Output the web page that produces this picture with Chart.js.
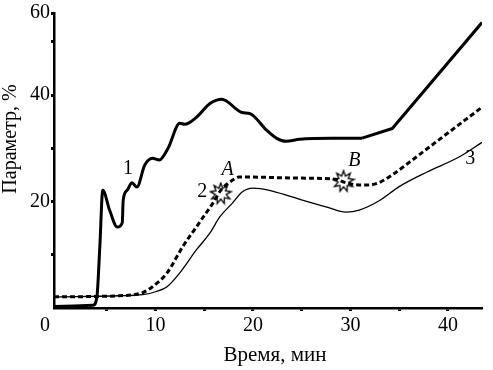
<!DOCTYPE html>
<html>
<head>
<meta charset="utf-8">
<script src="https://cdn.jsdelivr.net/npm/chart.js@4"></script>
<style>
  html, body { margin: 0; padding: 0; background: #fff; }
  #wrap { width: 493px; height: 370px; }
</style>
</head>
<body>
<div id="wrap"><canvas id="chart" width="493" height="370"></canvas></div>
<script>
// Curve 1 (thick solid)
const time1 = [-0.4, 3.6, 4.0, 4.3, 4.6, 5.3, 6.1, 6.6, 6.7, 7.1, 7.6, 8.1, 8.9, 9.7, 10.4, 11.3, 12.5, 13.0, 14.2, 15.6, 16.8, 18.9, 19.7, 21.4, 22.4, 23.4, 24.8, 28.1, 31.2, 34.3, 43.5];
const param1 = [0.3, 0.5, 2.1, 11.5, 22.1, 18.4, 15.2, 16.0, 20.3, 22.1, 23.5, 22.7, 26.8, 28.1, 27.8, 30.0, 34.7, 34.5, 35.8, 38.4, 39.2, 36.7, 36.5, 33.4, 31.9, 31.3, 31.7, 31.9, 31.9, 33.7, 53.6];
// from this time on curve 1 is drawn with straight segments
const straightFrom = 31.2;

// Curve 2 (dashed)
const time2 = [-0.4, 6.3, 8.7, 9.7, 11.2, 12.8, 14.5, 15.9, 16.7, 17.9, 18.6, 24.8, 28.4, 29.4, 30.9, 31.9, 33.0, 34.3, 36.0, 38.8, 43.5];
const param2 = [2.1, 2.3, 2.9, 4.0, 6.6, 11.5, 16.0, 19.7, 22.1, 24.0, 24.6, 24.4, 24.2, 23.6, 23.1, 23.1, 23.6, 25.0, 27.3, 31.2, 37.7];

// Curve 3 (thin solid)
const time3 = [-0.4, 6.3, 8.7, 10.1, 11.2, 12.5, 14.2, 15.6, 16.6, 17.9, 18.9, 20.0, 21.7, 24.1, 27.5, 29.6, 30.9, 33.0, 35.0, 37.8, 41.1, 43.5];
const param3 = [2.1, 2.3, 2.5, 3.1, 4.0, 6.6, 10.9, 14.1, 17.1, 19.7, 21.8, 22.5, 22.1, 20.8, 19.0, 18.0, 18.4, 20.2, 22.8, 25.5, 28.3, 31.1];

// Points A and B
const markTime = [16.7, 29.3];
const markParam = [21.5, 23.8];

// Curve numbers and point letters
const noteText = ['1', '2', 'A', 'B', '3'];
const noteTime = [7.2, 14.8, 17.4, 30.4, 42.3];
const noteParam = [26.2, 21.8, 25.9, 27.6, 28.1];

const xTicks = [5, 10, 15, 20, 25, 30, 35, 40];
const xTickLabels = ['', '10', '', '20', '', '30', '', '40'];
const yTicks = [10, 20, 30, 40, 50, 55.4];
const yTickLabels = ['', '20', '', '40', '', '60'];

const xTitle = 'Время, мин';
const yTitle = 'Параметр, %';

const FONT = 'Liberation Serif';

function pts(xs, ys) {
    return xs.map((x, i) => ({ x: x, y: ys[i] }));
}

// jagged star for A and B
function makeStar() {
    const c = document.createElement('canvas');
    c.width = 24; c.height = 24;
    const g = c.getContext('2d');
    const n = 9;
    g.beginPath();
    for (let i = 0; i < n * 2; i++) {
        const r = i % 2 === 0 ? 10.5 : 5.5;
        const a = -Math.PI / 2 + i * Math.PI / n;
        const px = 12 + r * Math.cos(a), py = 12 + r * Math.sin(a);
        if (i === 0) g.moveTo(px, py); else g.lineTo(px, py);
    }
    g.closePath();
    g.fillStyle = '#fff';
    g.fill();
    g.lineWidth = 1.3;
    g.strokeStyle = '#000';
    g.stroke();
    return c;
}

const notesPlugin = {
    id: 'notes',
    afterDatasetsDraw(chart) {
        const ctx = chart.ctx;
        const xs = chart.scales.x, ys = chart.scales.y;
        const area = chart.chartArea;
        ctx.save();
        ctx.fillStyle = '#000';
        ctx.textAlign = 'center';
        ctx.textBaseline = 'middle';
        noteText.forEach((t, i) => {
            const italic = (t === 'A' || t === 'B') ? 'italic ' : '';
            ctx.font = italic + '20px "' + FONT + '"';
            ctx.fillText(t, xs.getPixelForValue(noteTime[i]), ys.getPixelForValue(noteParam[i]));
        });
        // origin label
        ctx.font = '20px "' + FONT + '"';
        ctx.fillText('0', area.left - 9, area.bottom + 18);
        // axis titles
        ctx.font = '21px "' + FONT + '"';
        ctx.fillText(xTitle, 275, 355);
        ctx.translate(11, 139);
        ctx.rotate(-Math.PI / 2);
        ctx.font = '20px "' + FONT + '"';
        ctx.fillText(yTitle, 0, 0);
        ctx.restore();
    }
};

const cut = time1.indexOf(straightFrom);
const curve1 = pts(time1, param1);

new Chart(document.getElementById('chart'), {
    type: 'line',
    data: {
        datasets: [
            {
                data: curve1.slice(0, cut + 1),
                borderColor: '#000',
                borderWidth: 3,
                pointRadius: 0,
                cubicInterpolationMode: 'monotone'
            },
            {
                data: curve1.slice(cut),
                borderColor: '#000',
                borderWidth: 3,
                borderJoinStyle: 'round',
                pointRadius: 0,
                tension: 0
            },
            {
                data: pts(time2, param2),
                borderColor: '#000',
                borderWidth: 3,
                borderDash: [5, 3],
                pointRadius: 0,
                cubicInterpolationMode: 'monotone'
            },
            {
                data: pts(time3, param3),
                borderColor: '#000',
                borderWidth: 1.3,
                pointRadius: 0,
                cubicInterpolationMode: 'monotone'
            },
            {
                data: pts(markTime, markParam),
                showLine: false,
                pointStyle: makeStar(),
                pointRadius: 10
            }
        ]
    },
    options: {
        responsive: false,
        animation: false,
        layout: { padding: { top: 12, right: 10, left: 0, bottom: 0 } },
        plugins: {
            legend: { display: false },
            tooltip: { enabled: false }
        },
        scales: {
            x: {
                type: 'linear',
                min: -0.4,
                max: 43.5,
                afterBuildTicks: axis => { axis.ticks = xTicks.map(v => ({ value: v })); },
                afterFit: axis => { axis.height = 62; },
                ticks: {
                    color: '#000',
                    font: { family: FONT, size: 20 },
                    padding: 3,
                    maxRotation: 0,
                    autoSkip: false,
                    callback: (v, i) => xTickLabels[i]
                },
                grid: { drawOnChartArea: false, tickLength: 3, tickWidth: 3, tickColor: '#000' },
                border: { color: '#000', width: 2.5 }
            },
            y: {
                min: 0,
                max: 55.4,
                afterBuildTicks: axis => { axis.ticks = yTicks.map(v => ({ value: v })); },
                afterFit: axis => { axis.width = 54; },
                ticks: {
                    color: '#000',
                    font: { family: FONT, size: 20 },
                    padding: 1,
                    autoSkip: false,
                    callback: (v, i) => yTickLabels[i]
                },
                grid: { drawOnChartArea: false, tickLength: 3, tickWidth: 3, tickColor: '#000' },
                border: { color: '#000', width: 2.5 }
            }
        }
    },
    plugins: [notesPlugin]
});
</script>
</body>
</html>
